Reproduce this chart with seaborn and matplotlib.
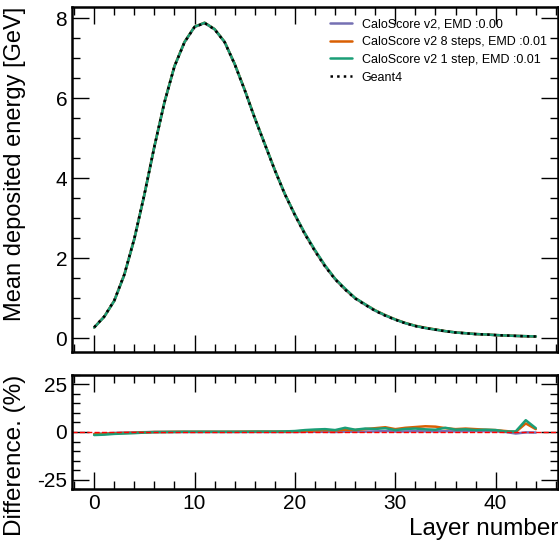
import numpy as np
import pandas as pd
import matplotlib
matplotlib.use("Agg")
import matplotlib.pyplot as plt
from matplotlib.ticker import MultipleLocator
import seaborn as sns

# ---------------- data ----------------
layers = list(range(45))
geant4 = [0.28, 0.55, 0.95, 1.60, 2.50, 3.60, 4.80, 5.90, 6.80, 7.40,
          7.78, 7.88, 7.72, 7.40, 6.85, 6.20, 5.50, 4.85, 4.20, 3.60,
          3.08, 2.60, 2.18, 1.80, 1.48, 1.22, 1.00, 0.84, 0.69, 0.57,
          0.47, 0.38, 0.31, 0.26, 0.22, 0.18, 0.15, 0.13, 0.11, 0.10,
          0.085, 0.075, 0.065, 0.055, 0.05]
# percent differences (model - Geant4) / Geant4
diff_v2 = [-1.0, -0.8, -0.5, -0.3, -0.2, -0.1, 0.0, 0.0, 0.0, 0.0,
           0.0, 0.0, 0.0, 0.0, 0.0, 0.0, 0.0, 0.0, 0.0, 0.0,
           0.0, 0.1, 0.1, 0.1, 0.0, 0.2, 0.1, 0.2, 0.3, 0.5,
           0.2, 0.3, 0.4, 0.3, 0.3, 0.4, 0.3, 0.4, 0.5, 0.4,
           0.3, 0.0, -0.8, -0.2, -0.3]
diff_8steps = [-1.2, -1.0, -0.7, -0.5, -0.4, -0.2, 0.0, 0.0, 0.1, 0.1,
               0.1, 0.1, 0.1, 0.1, 0.1, 0.2, 0.2, 0.2, 0.2, 0.2,
               0.3, 0.6, 0.8, 1.0, 0.8, 1.2, 1.0, 1.5, 2.0, 2.5,
               1.5, 2.2, 2.6, 3.0, 2.8, 2.0, 1.5, 1.8, 1.5, 1.2,
               1.0, 0.5, 0.0, 4.5, 1.5]
diff_1step = [-1.6, -1.4, -1.0, -0.8, -0.6, -0.3, -0.1, 0.0, 0.0, 0.1,
              0.1, 0.1, 0.1, 0.1, 0.1, 0.1, 0.2, 0.2, 0.2, 0.3,
              0.5, 1.0, 1.3, 1.5, 1.0, 2.2, 1.2, 1.8, 1.6, 2.0,
              1.0, 1.6, 1.8, 1.4, 1.2, 2.2, 1.2, 1.4, 1.0, 1.2,
              1.0, 0.2, 0.3, 6.2, 2.0]
names = ["CaloScore v2, EMD :0.00",
         "CaloScore v2 8 steps, EMD :0.01",
         "CaloScore v2 1 step, EMD :0.01"]
ref_name = "Geant4"
colors = ["#7570b3", "#d95f02", "#1b9e77"]
xlabel = "Layer number"
ylabel_top = "Mean deposited energy [GeV]"
ylabel_bot = "Difference. (%)"

# ---------------- frames ----------------
g4 = np.array(geant4)
diffs = [diff_v2, diff_8steps, diff_1step]
rows_e, rows_d = [], []
for name, d in zip(names, diffs):
    d = np.array(d)
    model = g4 * (1 + d / 100.0)
    rows_e.append(pd.DataFrame({"layer": layers, "energy": model, "model": name}))
    rows_d.append(pd.DataFrame({"layer": layers, "diff": d, "model": name}))
df_e = pd.concat(rows_e, ignore_index=True)
df_d = pd.concat(rows_d, ignore_index=True)
df_ref = pd.DataFrame({"layer": layers, "energy": geant4})

# ---------------- style ----------------
sns.set_theme(style="ticks")
plt.rcParams["font.family"] = ["Liberation Sans", "DejaVu Sans"]
plt.rcParams.update({
    "axes.unicode_minus": False,
    "text.color": "black", "axes.labelcolor": "black",
    "xtick.direction": "in", "ytick.direction": "in",
    "xtick.top": True, "ytick.right": True,
    "xtick.major.size": 12, "ytick.major.size": 12,
    "xtick.minor.size": 6, "ytick.minor.size": 6,
    "xtick.major.width": 1.0, "ytick.major.width": 1.0,
    "xtick.minor.width": 1.0, "ytick.minor.width": 1.0,
    "axes.linewidth": 1.8,
    "xtick.labelsize": 15, "ytick.labelsize": 15,
    "xtick.color": "black", "ytick.color": "black",
    "xtick.labelcolor": "black", "ytick.labelcolor": "black",
    "axes.edgecolor": "black",
})

fig = plt.figure(figsize=(5.59, 5.41), dpi=100)
ax = fig.add_axes([0.129, 0.349, 0.869, 0.638])
axr = fig.add_axes([0.129, 0.096, 0.869, 0.211], sharex=ax)

palette = dict(zip(names, colors))
sns.lineplot(data=df_e, x="layer", y="energy", hue="model", palette=palette,
             linewidth=1.8, ax=ax)
sns.lineplot(data=df_ref, x="layer", y="energy", color="black", linestyle=":",
             linewidth=1.8, label=ref_name, ax=ax)

sns.lineplot(data=df_d, x="layer", y="diff", hue="model", palette=palette,
             linewidth=1.8, ax=axr, legend=False)
axr.axhline(0, color="red", linestyle="--", linewidth=1.0)

# axes config
for a in (ax, axr):
    a.xaxis.set_major_locator(MultipleLocator(10))
    a.xaxis.set_minor_locator(MultipleLocator(2))
    a.tick_params(which="both", top=True, right=True, direction="in",
                  colors="black", labelcolor="black")
ax.yaxis.set_major_locator(MultipleLocator(2))
ax.yaxis.set_minor_locator(MultipleLocator(0.5))
axr.yaxis.set_major_locator(MultipleLocator(25))
axr.yaxis.set_minor_locator(MultipleLocator(5))
axr.set_ylim(-30, 30)
ax.tick_params(labelbottom=False)

ax.set_xlabel("")
ax.set_ylabel(ylabel_top, fontsize=17, loc="top", color="black")
axr.set_ylabel(ylabel_bot, fontsize=17.5, loc="top", color="black")
axr.set_xlabel(xlabel, fontsize=17.5, loc="right", color="black")
ax.yaxis.set_label_coords(-0.095, 1.0)
axr.yaxis.set_label_coords(-0.095, 1.0)

leg = ax.legend(loc="upper right", frameon=False, fontsize=9,
                handlelength=1.7, handletextpad=0.8,
                borderaxespad=0.5, labelspacing=0.46)
for t in leg.get_texts():
    t.set_color("black")

fig.savefig("out.png", dpi=100)
